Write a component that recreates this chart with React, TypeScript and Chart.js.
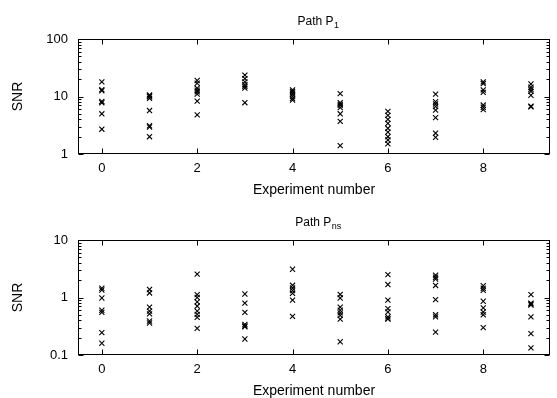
import React, { useEffect, useRef } from 'react';
import { Chart, registerables } from 'chart.js';
Chart.register(...registerables);

const experiments = [0, 1, 2, 3, 4, 5, 6, 7, 8, 9];
const xTickValues = [0, 2, 4, 6, 8];
const xTitle = 'Experiment number';
const yTitle = 'SNR';

const p1Title = ['Path P', '1'];
const p1YLabels = [1, 10, 100];
const p1SNR: number[][] = [
  [18, 13.2, 12.6, 8.2, 7.8, 5.0, 2.7],
  [10.6, 10.2, 9.9, 9.3, 5.7, 3.1, 2.95, 2.0],
  [19, 17, 14, 12.9, 12.1, 11, 8.3, 4.8],
  [23.5, 20.5, 18, 16, 15, 14, 7.8],
  [13, 12.3, 11.5, 10.8, 10, 9.2, 8.7],
  [11.2, 7.8, 7.3, 7.0, 6.4, 5.0, 3.7, 1.4],
  [5.5, 4.7, 4.0, 3.4, 2.8, 2.4, 2.0, 1.75, 1.5],
  [11, 8.1, 7.4, 6.7, 5.8, 4.3, 2.3, 1.95],
  [18, 16.8, 13, 11.8, 7.1, 6.5, 5.9],
  [16.5, 14.5, 13.3, 12.3, 10.5, 6.8, 6.6],
];

const pnsTitle = ['Path P', 'ns'];
const pnsYLabels = [0.1, 1, 10];
const pnsSNR: number[][] = [
  [1.45, 1.35, 0.98, 0.6, 0.55, 0.245, 0.16],
  [1.38, 1.2, 0.68, 0.58, 0.52, 0.39, 0.36],
  [2.55, 1.12, 1.0, 0.84, 0.71, 0.58, 0.51, 0.45, 0.29],
  [1.15, 0.8, 0.55, 0.34, 0.32, 0.31, 0.19],
  [3.1, 1.63, 1.46, 1.32, 1.18, 0.9, 0.47],
  [1.13, 0.98, 0.68, 0.6, 0.54, 0.49, 0.42, 0.17],
  [2.5, 1.68, 0.9, 0.64, 0.56, 0.46, 0.43, 0.42],
  [2.45, 2.25, 2.1, 1.62, 0.92, 0.5, 0.46, 0.25],
  [1.6, 1.45, 1.33, 0.86, 0.66, 0.56, 0.5, 0.3],
  [1.12, 0.8, 0.77, 0.74, 0.46, 0.235, 0.133],
];

const FONT = '"Liberation Sans", Arial, Helvetica, sans-serif';

function logTickValues(decades: number[]): number[] {
  const out: number[] = [];
  for (let d = 0; d < decades.length - 1; d++) {
    for (let k = 1; k < 10; k++) out.push(Number((decades[d] * k).toPrecision(3)));
  }
  out.push(decades[decades.length - 1]);
  return out;
}

function isMajor(v: number) {
  const l = Math.log10(v);
  return Math.abs(l - Math.round(l)) < 1e-9;
}

const framePlugin = {
  id: 'frame',
  afterDraw(chart: any, _args: any, opts: any) {
    const { ctx, chartArea: a, scales } = chart;
    const L = Math.round(a.left) + 0.5;
    const R = Math.round(a.right) - 0.5;
    const T = Math.round(a.top) + 0.5;
    const B = Math.round(a.bottom) - 0.5;
    ctx.save();
    ctx.strokeStyle = '#000';
    ctx.lineWidth = 1;
    ctx.strokeRect(L, T, R - L, B - T);
    ctx.beginPath();
    for (const t of scales.y.ticks) {
      const y = Math.round(scales.y.getPixelForValue(t.value)) + 0.5;
      const len = isMajor(t.value) ? 5 : 3;
      ctx.moveTo(L, y); ctx.lineTo(L + len, y);
      ctx.moveTo(R, y); ctx.lineTo(R - len, y);
    }
    for (const t of scales.x.ticks) {
      const x = Math.round(scales.x.getPixelForValue(t.value)) + 0.5;
      ctx.moveTo(x, B); ctx.lineTo(x, B - 5);
      ctx.moveTo(x, T); ctx.lineTo(x, T + 5);
    }
    ctx.stroke();
    if (opts && opts.title) {
      const [main, sub] = opts.title;
      ctx.fillStyle = '#000';
      ctx.textBaseline = 'alphabetic';
      ctx.textAlign = 'left';
      ctx.font = `12px ${FONT}`;
      const w1 = ctx.measureText(main).width;
      ctx.font = `9px ${FONT}`;
      const w2 = ctx.measureText(sub).width;
      const cx = (a.left + a.right) / 2 + 4;
      const x0 = cx - (w1 + w2) / 2;
      ctx.font = `12px ${FONT}`;
      ctx.fillText(main, x0, opts.titleY);
      ctx.font = `9px ${FONT}`;
      ctx.fillText(sub, x0 + w1 + 0.5, opts.titleY + 3);
    }
    ctx.restore();
  },
};

function makeConfig(values: number[][], yLabels: number[], title: string[], titleY: number, xAxisHeight: number, topPad: number, xTitlePad: number) {
  const points = experiments.flatMap((e, i) => values[i].map((v) => ({ x: e, y: v })));
  const yTicks = logTickValues(yLabels);
  const tickFont = { family: FONT, size: 13 };
  const titleFont = { family: FONT, size: 14 };
  return {
    type: 'scatter',
    data: {
      datasets: [
        {
          data: points,
          pointStyle: 'crossRot',
          pointRadius: 3.6,
          pointBorderWidth: 1.1,
          borderColor: '#000',
          backgroundColor: '#000',
          borderWidth: 1.1,
          showLine: false,
        },
      ],
    },
    options: {
      responsive: false,
      animation: false,
      devicePixelRatio: 1,
      layout: { padding: { top: topPad, right: 7, left: 0, bottom: 0 } },
      plugins: {
        legend: { display: false },
        tooltip: { enabled: false },
        title: { display: false },
        frame: { title, titleY },
      },
      scales: {
        x: {
          type: 'linear',
          min: -0.5,
          max: 9.4,
          afterBuildTicks: (ax: any) => { ax.ticks = xTickValues.map((v) => ({ value: v })); },
          afterFit: (ax: any) => { ax.height = xAxisHeight; },
          grid: { display: false, drawTicks: false },
          border: { display: false },
          ticks: { padding: 7, color: '#000', font: tickFont, autoSkip: false, maxRotation: 0, callback: (v: any) => String(v) },
          title: { display: true, text: xTitle, color: '#000', font: titleFont, padding: { top: 0, bottom: xTitlePad } },
        },
        y: {
          type: 'logarithmic',
          min: yLabels[0],
          max: yLabels[yLabels.length - 1],
          afterBuildTicks: (ax: any) => { ax.ticks = yTicks.map((v) => ({ value: v })); },
          afterFit: (ax: any) => { ax.width = 78; },
          grid: { display: false, drawTicks: false },
          border: { display: false },
          ticks: {
            padding: 10,
            color: '#000',
            font: tickFont,
            autoSkip: false,
            callback: (v: any) => (yLabels.some((l) => Math.abs(l - v) < 1e-9) ? String(v) : ''),
          },
          title: { display: true, text: yTitle, color: '#000', font: titleFont, padding: { top: 10, bottom: 0 } },
        },
      },
    },
    plugins: [framePlugin],
  };
}

function Plot({ values, yLabels, title, titleY, xAxisHeight, topPad, xTitlePad }: any) {
  const ref = useRef<HTMLCanvasElement>(null);
  useEffect(() => {
    if (!ref.current) return;
    const chart = new Chart(ref.current, makeConfig(values, yLabels, title, titleY, xAxisHeight, topPad, xTitlePad) as any);
    return () => chart.destroy();
  }, []);
  return <canvas ref={ref} width={557} height={199} style={{ display: 'block', width: 557, height: 199 }} />;
}

export default function App() {
  return (
    <div style={{ position: 'absolute', left: 0, top: 0, width: 557, height: 398, background: '#fff' }}>
      <Plot values={p1SNR} yLabels={p1YLabels} title={p1Title} titleY={25} xAxisHeight={45} topPad={39} xTitlePad={0.5} />
      <Plot values={pnsSNR} yLabels={pnsYLabels} title={pnsTitle} titleY={27} xAxisHeight={43} topPad={41} xTitlePad={-2} />
    </div>
  );
}
